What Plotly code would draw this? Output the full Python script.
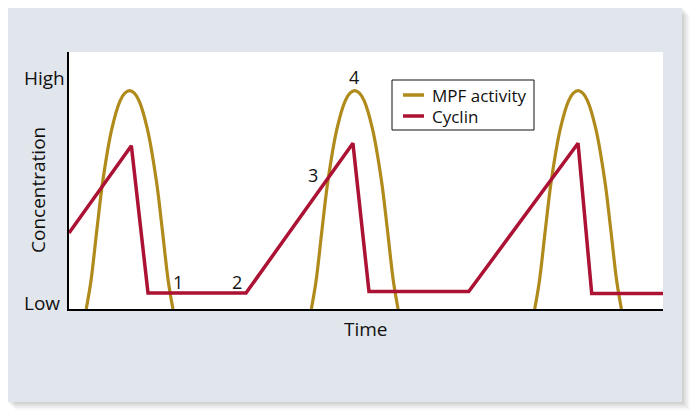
import plotly.graph_objects as go

# time axis runs 0..100, concentration 0..100 (Low..High)
cyclin_t = [0, 10.5, 13.3, 29.8, 47.8, 50.5, 67.3, 85.7, 88.0, 100]
cyclin_v = [29.6, 63.5, 6.2, 6.2, 64.5, 6.8, 6.8, 64.5, 6.0, 6.0]

mpf_t = [
    2.9, 3.7, 4.7, 5.7, 7.2, 8.6, 9.4, 10.2, 11.0, 11.8, 13.2, 14.7, 15.7, 16.7, 17.5, None,
    40.8, 41.6, 42.6, 43.6, 45.1, 46.5, 47.3, 48.1, 48.9, 49.7, 51.1, 52.6, 53.6, 54.6, 55.4, None,
    78.4, 79.2, 80.2, 81.2, 82.7, 84.1, 84.9, 85.7, 86.5, 87.3, 88.7, 90.2, 91.2, 92.2, 93.0,
]
mpf_v = [
    0, 11, 31, 50, 70, 81, 84, 85, 84, 81, 70, 50, 31, 11, 0, None,
    0, 11, 31, 50, 70, 81, 84, 85, 84, 81, 70, 50, 31, 11, 0, None,
    0, 11, 31, 50, 70, 81, 84, 85, 84, 81, 70, 50, 31, 11, 0,
]

step_labels = ["1", "2", "3", "4"]
step_t = [18.4, 28.2, 41.1, 48.0]
step_v = [10.5, 10.5, 52.1, 90.3]

legend_names = ["MPF activity", "Cyclin"]

GOLD = "#b08a1a"
RED = "#ab1233"
FONT = "Open Sans"
INK = "#111111"


# helpers: page pixel -> paper fraction of the plot area (69..663, 52..309)
def px(x):
    return (x - 69) / 594


def py(y):
    return (309 - y) / 257


fig = go.Figure()

fig.add_trace(go.Scatter(
    x=mpf_t, y=mpf_v,
    mode="lines",
    line=dict(color=GOLD, width=3.2, shape="spline", smoothing=1.0),
    name=legend_names[0],
    connectgaps=False,
))
fig.add_trace(go.Scatter(
    x=cyclin_t, y=cyclin_v,
    mode="lines",
    line=dict(color=RED, width=3.5),
    name=legend_names[1],
))

for lab, t, v in zip(step_labels, step_t, step_v):
    fig.add_annotation(x=t, y=v, text=lab, showarrow=False,
                       font=dict(size=18, color=INK, family=FONT))

# panel, shadow and white plot area
shapes = []
for off, a in [(8, 0.03), (6, 0.04), (4, 0.05), (2, 0.06)]:
    shapes.append(dict(
        type="rect", xref="paper", yref="paper", layer="below",
        x0=px(7 + off), x1=px(682 + off), y0=py(402 + off), y1=py(7 + off),
        fillcolor=f"rgba(0,0,0,{a})", line=dict(width=0),
    ))
shapes.append(dict(
    type="rect", xref="paper", yref="paper", layer="below",
    x0=px(7), x1=px(682), y0=py(402), y1=py(7),
    fillcolor="#e1e6ec", line=dict(width=0),
))
shapes.append(dict(
    type="rect", xref="paper", yref="paper", layer="below",
    x0=0, x1=1, y0=0, y1=1,
    fillcolor="white", line=dict(width=0),
))

# hand-drawn legend box
shapes.append(dict(
    type="rect", xref="paper", yref="paper", layer="above",
    x0=px(392), x1=px(534), y0=py(130), y1=py(80),
    fillcolor="white", line=dict(color=INK, width=1),
))
for yy, col in [(95, GOLD), (116, RED)]:
    shapes.append(dict(
        type="line", xref="paper", yref="paper", layer="above",
        x0=px(403), x1=px(424), y0=py(yy), y1=py(yy),
        line=dict(color=col, width=3.5),
    ))

annotations = [
    dict(text="High", x=px(22), y=py(78), xanchor="left", size=19),
    dict(text="Low", x=px(22), y=py(303), xanchor="left", size=19),
    dict(text="Time", x=px(366), y=py(329), xanchor="center", size=19),
    dict(text="Concentration", x=px(38), y=py(190), xanchor="center",
         textangle=-90, size=19),
    dict(text=legend_names[0], x=px(430), y=py(95), xanchor="left", size=17),
    dict(text=legend_names[1], x=px(430), y=py(116), xanchor="left", size=17),
]
for a in annotations:
    size = a.pop("size")
    fig.add_annotation(xref="paper", yref="paper", showarrow=False,
                       yanchor="middle", font=dict(size=size, color=INK, family=FONT), **a)

# the page body adds an 8px offset, so margins are 8px smaller on top/left
fig.update_layout(
    width=700, height=419,
    margin=dict(l=61, r=45, t=44, b=118),
    paper_bgcolor="white",
    plot_bgcolor="white",
    shapes=shapes,
    showlegend=False,
    xaxis=dict(range=[0, 100], showgrid=False, zeroline=False, showticklabels=False,
               ticks="", showline=True, linecolor="black", linewidth=2),
    yaxis=dict(range=[0, 100], showgrid=False, zeroline=False, showticklabels=False,
               ticks="", showline=True, linecolor="black", linewidth=2),
)

fig.write_html("out.html")
